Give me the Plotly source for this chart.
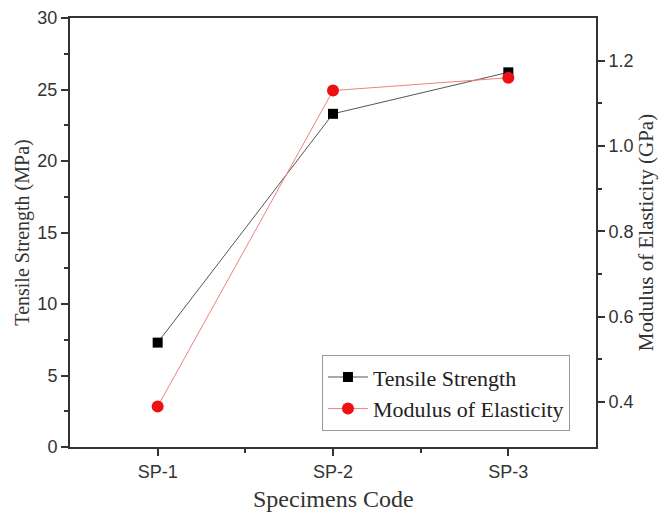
import plotly.graph_objects as go

categories = ["SP-1", "SP-2", "SP-3"]
tensile_strength = [7.3, 23.3, 26.2]
modulus = [0.39, 1.13, 1.16]
left_ticks = [0, 5, 10, 15, 20, 25, 30]
right_ticks = [0.4, 0.6, 0.8, 1.0, 1.2]

x_idx = list(range(len(categories)))

fig = go.Figure()
fig.add_trace(go.Scatter(
    x=x_idx, y=tensile_strength, name="Tensile Strength", mode="lines+markers",
    line=dict(color="#555555", width=1),
    marker=dict(symbol="square", size=10, color="black"),
))
fig.add_trace(go.Scatter(
    x=x_idx, y=modulus, name="Modulus of Elasticity", mode="lines+markers",
    yaxis="y2",
    line=dict(color="#f08080", width=1),
    marker=dict(symbol="circle", size=12, color="#ee1111"),
))

tick_font = dict(family="Liberation Sans", size=18, color="#333333")

fig.update_layout(
    width=660, height=514,
    margin=dict(l=70, r=64, t=18, b=67),
    plot_bgcolor="white", paper_bgcolor="white",
    showlegend=True,
    legend=dict(
        x=0.479, y=0.214, xanchor="left", yanchor="top",
        bordercolor="#999999", borderwidth=1, bgcolor="white",
        font=dict(family="Liberation Serif", size=22, color="#222222"),
        tracegroupgap=0, itemwidth=40,
    ),
    xaxis=dict(
        range=[-0.5, 2.5], tickvals=x_idx, ticktext=categories,
        showline=True, linecolor="#333333", linewidth=2, mirror=True,
        ticks="outside", ticklen=7, tickwidth=1.5, tickcolor="#333333",
        tickfont=tick_font, showgrid=False, zeroline=False, automargin=False,
        minor=dict(tickvals=[0.5, 1.5], ticks="outside", ticklen=4, tickwidth=1.5, tickcolor="#333333"),
    ),
    yaxis=dict(
        range=[0, 30], tickvals=left_ticks,
        showline=True, linecolor="#333333", linewidth=2,
        ticks="outside", ticklen=7, tickwidth=1.5, tickcolor="#333333",
        tickfont=tick_font, showgrid=False, zeroline=False, automargin=False,
        minor=dict(dtick=2.5, ticks="outside", ticklen=4, tickwidth=1.5, tickcolor="#333333", showgrid=False),
        title=dict(text="Tensile Strength (MPa)", font=dict(family="Liberation Serif", size=20, color="#333333"), standoff=2),
    ),
    yaxis2=dict(
        range=[0.295, 1.3], tickvals=right_ticks, overlaying="y", side="right",
        showline=True, linecolor="#333333", linewidth=2,
        ticks="outside", ticklen=7, tickwidth=1.5, tickcolor="#333333",
        tickfont=tick_font, showgrid=False, zeroline=False, tickformat=".1f", automargin=False,
        minor=dict(tickvals=[0.5, 0.7, 0.9, 1.1], ticks="outside", ticklen=4, tickwidth=1.5, tickcolor="#333333", showgrid=False),
        title=dict(text="Modulus of Elasticity (GPa)", font=dict(family="Liberation Serif", size=21, color="#333333"), standoff=6),
    ),
    annotations=[dict(
        text="Specimens Code", xref="paper", yref="paper", x=0.5, y=-0.122,
        xanchor="center", yanchor="middle", showarrow=False,
        font=dict(family="Liberation Serif", size=24, color="#333333"),
    )],
)

fig.write_html("out.html")
